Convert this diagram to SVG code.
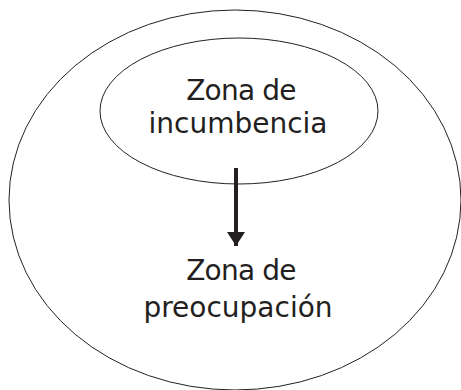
<svg xmlns="http://www.w3.org/2000/svg" width="461" height="390" viewBox="0 0 461 390">
<style>
.sh{fill:none;stroke:#222;stroke-width:1}
.t{font-family:"DejaVu Sans",sans-serif;font-size:28px;fill:#231f20;text-anchor:middle}
.z{letter-spacing:-0.8px}
</style>
<defs>
<marker id="ah" viewBox="0 0 14 18" refX="14" refY="9" markerWidth="14" markerHeight="18" markerUnits="userSpaceOnUse" orient="auto">
<path d="M0,0 L14,9 L0,18 Z" fill="#231f20"/>
</marker>
</defs>
<rect width="461" height="390" fill="#fff"/>
<g id="outer">
<ellipse class="sh" cx="235" cy="200" rx="226" ry="190"/>
<text class="t z" x="241" y="280">Zona de</text>
<text class="t" x="238" y="317">preocupación</text>
</g>
<g id="inner">
<ellipse class="sh" cx="239" cy="111" rx="139" ry="73"/>
<text class="t z" x="241" y="100">Zona de</text>
<text class="t" x="238" y="133">incumbencia</text>
</g>
<g id="connectors">
<line x1="236" y1="168" x2="236" y2="246" stroke="#231f20" stroke-width="4" marker-end="url(#ah)"/>
</g>
</svg>
